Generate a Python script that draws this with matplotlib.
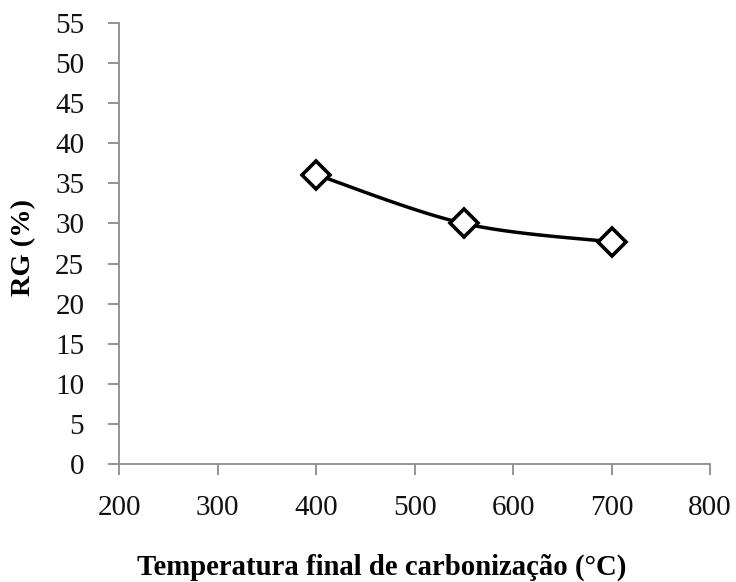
import numpy as np
import matplotlib
matplotlib.use("Agg")
import matplotlib.pyplot as plt

temperatures = [400, 550, 700]
rg_values = [36.1, 30.0, 27.7]
x_ticks = [200, 300, 400, 500, 600, 700, 800]
y_ticks = list(range(0, 60, 5))

plt.rcParams['font.family'] = ['Liberation Serif', 'DejaVu Serif']

def smooth_curve(xs, ys, n=40, t=1/6):
    # Excel-like smoothed line through the points (Catmull-Rom Bezier)
    xs = np.asarray(xs, float); ys = np.asarray(ys, float)
    px = np.concatenate([[xs[0]], xs, [xs[-1]]])
    py = np.concatenate([[ys[0]], ys, [ys[-1]]])
    outx, outy = [], []
    for i in range(1, len(px) - 2):
        p0 = np.array([px[i], py[i]]); p3 = np.array([px[i+1], py[i+1]])
        p1 = p0 + (np.array([px[i+1], py[i+1]]) - np.array([px[i-1], py[i-1]])) * t
        p2 = p3 - (np.array([px[i+2], py[i+2]]) - np.array([px[i], py[i]])) * t
        s = np.linspace(0, 1, n)[:, None]
        b = (1-s)**3*p0 + 3*(1-s)**2*s*p1 + 3*(1-s)*s**2*p2 + s**3*p3
        outx.extend(b[:, 0]); outy.extend(b[:, 1])
    return outx, outy

fig = plt.figure(figsize=(7.36, 5.82), dpi=100)
ax = fig.add_axes([0.1617, 0.2027, 0.8030, 0.7578])

cx, cy = smooth_curve(temperatures, rg_values)
ax.plot(cx, cy, color='black', lw=2.5, zorder=2)
ax.plot(temperatures, rg_values, linestyle='none', marker='D', markersize=14,
        markerfacecolor='white', markeredgecolor='black', markeredgewidth=2.6, zorder=3)

ax.set_xlim(200, 800)
ax.set_ylim(0, 55)
ax.set_xticks(x_ticks)
ax.set_yticks(y_ticks)
ax.set_xticklabels([str(v) for v in x_ticks])
ax.set_yticklabels([str(v) for v in y_ticks])

for s in ['top', 'right']:
    ax.spines[s].set_visible(False)
for s in ['left', 'bottom']:
    ax.spines[s].set_color('#8c8c8c')
    ax.spines[s].set_linewidth(1.3)

ax.tick_params(axis='both', direction='out', colors='#8c8c8c', width=1.3, length=8,
               labelsize=21, labelcolor='#111111')
ax.tick_params(axis='x', pad=14)
ax.tick_params(axis='y', pad=17)

fig.text(382/736, 1 - 567/582, 'Temperatura final de carbonização (°C)', fontsize=20.7,
         fontweight='bold', ha='center', va='center')
fig.text(24/736, 1 - 247/582, 'RG (%)', fontsize=20.5, fontweight='bold',
         rotation=90, ha='center', va='center')

fig.savefig('out.png', dpi=100)
